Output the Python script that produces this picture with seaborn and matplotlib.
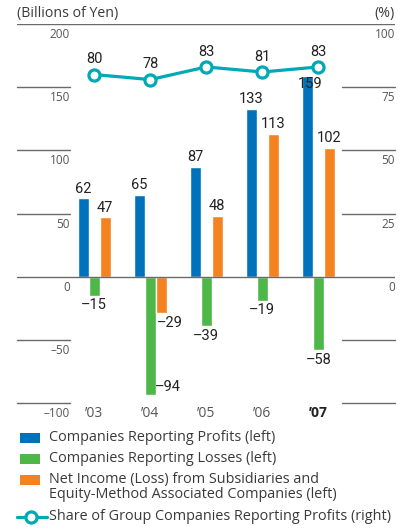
import matplotlib
matplotlib.use("Agg")
import numpy as np
import pandas as pd
import seaborn as sns
import matplotlib.pyplot as plt
import matplotlib.transforms as mtransforms
from matplotlib.patches import Rectangle
from matplotlib.lines import Line2D

# data
years = ["\u201903", "\u201904", "\u201905", "\u201906", "\u201907"]
profits = [62, 65, 87, 133, 159]
losses = [-15, -94, -39, -19, -58]
net_income = [47, -29, 48, 113, 102]
share = [80, 78, 83, 81, 83]

series_names = [
    "Companies Reporting Profits (left)",
    "Companies Reporting Losses (left)",
    "Net Income (Loss) from Subsidiaries and\nEquity-Method Associated Companies (left)",
]
line_name = "Share of Group Companies Reporting Profits (right)"
left_ticks = [-100, -50, 0, 50, 100, 150, 200]
right_ticks = [0, 25, 50, 75, 100]

BLUE = "#0072BC"
GREEN = "#4DB848"
ORANGE = "#F58220"
TEAL = "#00A9B5"
GRID = "#6a6a6a"
TXT = "#3a3a3a"
NUM = "#222222"

sns.set_theme(style="white")
plt.rcParams["font.family"] = ["Open Sans", "DejaVu Sans"]
NUM_FONT = ["Liberation Sans Narrow", "Roboto"]


def dash(v):
    return f"{v}".replace("-", "\u2013")


def main():
    df = pd.DataFrame({
        "year": years * 3,
        "series": sum([[s] * len(years) for s in series_names], []),
        "value": profits + losses + net_income,
    })

    fig = plt.figure(figsize=(4.04, 5.30), dpi=100)
    W, H = 404, 530
    ax = fig.add_axes([17 / W, 1 - 403 / H, 378 / W, 379 / H])

    sns.barplot(data=df, x="year", y="value", hue="series",
                palette=[BLUE, GREEN, ORANGE], saturation=1, width=0.59,
                ax=ax, legend=False)
    ax.set_xlim(-1.38, 5.37)
    ax.set_ylim(-100, 200)
    for s in ax.spines.values():
        s.set_visible(False)
    ax.set_xlabel("")
    ax.set_ylabel("")

    # gridlines: full width at 0 and 200, short stubs elsewhere
    ytr = ax.get_yaxis_transform()
    stub = 53 / 378
    for y in left_ticks:
        if y in (0, 200):
            ax.axhline(y, color=GRID, lw=1, zorder=3)
        else:
            ax.plot([0, stub], [y, y], color=GRID, lw=1, transform=ytr, clip_on=False)
            ax.plot([1 - stub, 1], [y, y], color=GRID, lw=1, transform=ytr, clip_on=False)

    # left tick labels sit inside, under the stubs
    ax.set_yticks(left_ticks)
    ax.set_yticklabels([dash(t) for t in left_ticks])
    ax.tick_params(axis="y", length=0, pad=-38, labelsize=8.5, labelcolor="#555555")
    off = mtransforms.ScaledTranslation(0, -4 / 100, fig.dpi_scale_trans)
    for lab in ax.get_yticklabels():
        lab.set_va("top")
        lab.set_transform(lab.get_transform() + off)

    ax.tick_params(axis="x", length=0, pad=2, labelsize=10, labelcolor="#555555")
    xl = ax.get_xticklabels()
    xl[-1].set_fontweight("bold")
    xl[-1].set_color(NUM)

    # value labels on bars
    for ci, cont in enumerate(ax.containers):
        for i, p in enumerate(cont.patches):
            v = p.get_height()
            x = p.get_x() + p.get_width() / 2
            dx, dy, ha, va = 0, 2, "center", "bottom"
            if v < 0:
                dy, va = -2, "top"
            if ci == 1 and i == 1:
                dx, dy, ha, va = 13, 1, "center", "bottom"
            if ci == 2 and i == 1:
                dx = 6
            if ci == 0 and i == 4:
                dx, dy, va = 2, -1, "top"
            ax.annotate(dash(int(round(v))), (x, v), xytext=(dx, dy),
                        textcoords="offset points", ha=ha, va=va,
                        fontsize=10.5, color=NUM, family=NUM_FONT, zorder=6)

    # right axis with share line
    ax2 = ax.twinx()
    ax2.set_ylim(-50, 100)
    for s in ax2.spines.values():
        s.set_visible(False)
    ax2.set_yticks(right_ticks)
    ax2.set_yticklabels([str(t) for t in right_ticks])
    ax2.tick_params(axis="y", length=0, pad=0, labelsize=8.5, labelcolor="#555555")
    for lab in ax2.get_yticklabels():
        lab.set_ha("right")
        lab.set_va("top")
        lab.set_transform(lab.get_transform() + off)

    xs = np.arange(len(years))
    sns.lineplot(x=xs, y=share, ax=ax2, color=TEAL, lw=2.3, marker="o", ms=8,
                 markerfacecolor="white", markeredgecolor=TEAL, markeredgewidth=2.3)
    ax2.set_xlim(-1.38, 5.37)
    for x, v in zip(xs, share):
        ax2.annotate(str(v), (x, v), xytext=(0, 6), textcoords="offset points",
                     ha="center", va="bottom", fontsize=10.5, color=NUM, family=NUM_FONT)

    # headers
    fig.text(17 / W, 1 - 13 / H, "(Billions of Yen)", ha="left", va="center",
             fontsize=10.2, color=TXT)
    fig.text(395 / W, 1 - 13 / H, "(%)", ha="right", va="center",
             fontsize=10.2, color=TXT)

    # legend
    rows = [(BLUE, 438), (GREEN, 459), (ORANGE, 480)]
    for (c, y), name in zip(rows, series_names):
        fig.add_artist(Rectangle((20 / W, 1 - (y + 5) / H), 20 / W, 10 / H,
                                 transform=fig.transFigure, color=c, lw=0))
        fig.text(49 / W, 1 - (y - 8) / H, name, ha="left", va="top",
                 fontsize=10.4, color=TXT, linespacing=1.0)
    fig.add_artist(Line2D([17 / W, 47 / W], [1 - 517 / H] * 2, transform=fig.transFigure,
                          color=TEAL, lw=2.3))
    fig.add_artist(Line2D([31 / W], [1 - 517 / H], transform=fig.transFigure,
                          marker="o", ms=8, mfc="white", mec=TEAL, mew=2.3))
    fig.text(49 / W, 1 - 517 / H, line_name, ha="left", va="center",
             fontsize=10.4, color=TXT)

    fig.savefig("out.png", dpi=100)


if __name__ == "__main__":
    main()
